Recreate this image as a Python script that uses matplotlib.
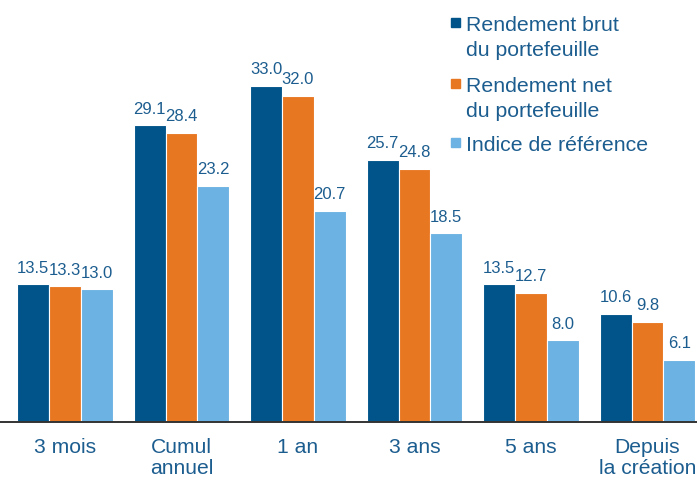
import numpy as np
import matplotlib
matplotlib.use("Agg")
import matplotlib.pyplot as plt

plt.rcParams.update({"font.family": ["Liberation Sans", "DejaVu Sans"]})

categories = ["3 mois", "Cumul\nannuel", "1 an", "3 ans", "5 ans", "Depuis\nla création"]
series_names = ["Rendement brut\ndu portefeuille", "Rendement net\ndu portefeuille",
                "Indice de référence"]
brut = [13.5, 29.1, 33.0, 25.7, 13.5, 10.6]
net = [13.3, 28.4, 32.0, 24.8, 12.7, 9.8]
indice = [13.0, 23.2, 20.7, 18.5, 8.0, 6.1]

colors = ["#00548A", "#E87722", "#6CB2E2"]
txt = "#1C5D8F"

W, H = 697, 481
fig = plt.figure(figsize=(W / 100, H / 100), dpi=100)
ax = fig.add_axes([0, 58 / H, 1, 1 - 58 / H])

x = np.arange(len(categories))
w = 0.273
for i, (vals, col) in enumerate(zip([brut, net, indice], colors)):
    pos = x + (i - 1) * w
    ax.bar(pos, vals, width=w, color=col, edgecolor="white", linewidth=0.8, zorder=2)
    for px, v in zip(pos, vals):
        ax.annotate(f"{v:.1f}", (px, v), xytext=(0, 7), textcoords="offset points",
                    ha="center", va="bottom", fontsize=12, color=txt)

ax.set_xlim(-0.558, 5.425)
ax.set_ylim(0, 41.5)
ax.set_yticks([])
ax.set_xticks(x)
ax.set_xticklabels(categories, fontsize=15.2, color=txt, linespacing=1.1)
ax.tick_params(axis="x", length=0, pad=11)
for s in ["top", "right", "left"]:
    ax.spines[s].set_visible(False)
ax.spines["bottom"].set_color("#333333")
ax.spines["bottom"].set_linewidth(1.4)

# legend drawn by hand so the square sits on the first line
sq_y = [23, 84, 143]  # square centres, px from top
for name, col, yc in zip(series_names, colors, sq_y):
    fig.patches.append(plt.Rectangle((451 / W, 1 - (yc + 4.5) / H), 9 / W, 9 / H,
                                     transform=fig.transFigure, color=col))
    for k, line in enumerate(name.split("\n")):
        fig.text(466 / W, 1 - (yc + 8 + 25 * k) / H, line, fontsize=15.3,
                 color=txt, va="baseline", ha="left")

fig.savefig("out.png", dpi=100)
